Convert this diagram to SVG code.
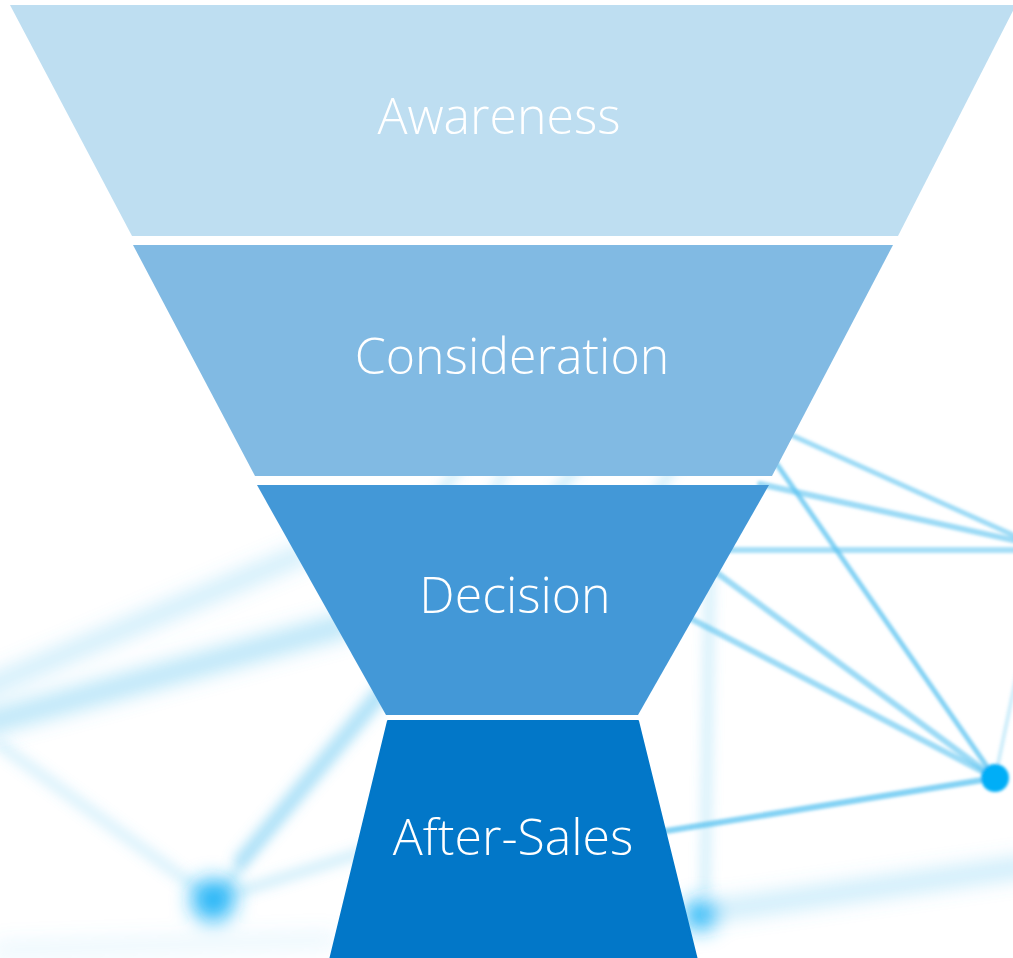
<svg xmlns="http://www.w3.org/2000/svg" width="1013" height="958" viewBox="0 0 1013 958">
<defs>
<style>
.lbl{font-family:"Open Sans","Liberation Sans",sans-serif;font-weight:300;font-size:50px;fill:#ffffff;text-anchor:middle}
.ln{fill:none;stroke:#5cc3f0;stroke-linecap:round}
</style>
<filter id="b1" filterUnits="userSpaceOnUse" x="-50" y="-50" width="1113" height="1058"><feGaussianBlur stdDeviation="1.4"/></filter>
<filter id="b2" filterUnits="userSpaceOnUse" x="-50" y="-50" width="1113" height="1058"><feGaussianBlur stdDeviation="6"/></filter>
<filter id="b3" filterUnits="userSpaceOnUse" x="-50" y="-50" width="1113" height="1058"><feGaussianBlur stdDeviation="10"/></filter>
</defs>
<rect width="1013" height="958" fill="#ffffff"/>
<g id="connectors">
  <g filter="url(#b1)">
    <line class="ln" x1="995" y1="778" x2="760" y2="440" stroke-width="5" stroke-opacity="0.75"/>
    <line class="ln" x1="995" y1="778" x2="690" y2="553" stroke-width="6" stroke-opacity="0.6"/>
    <line class="ln" x1="995" y1="778" x2="680" y2="613" stroke-width="6" stroke-opacity="0.6"/>
    <line class="ln" x1="995" y1="778" x2="660" y2="832" stroke-width="6" stroke-opacity="0.75"/>
    <line class="ln" x1="995" y1="778" x2="1020" y2="660" stroke-width="4" stroke-opacity="0.3"/>
    <line class="ln" x1="1035" y1="545" x2="780" y2="430" stroke-width="5" stroke-opacity="0.6"/>
    <line class="ln" x1="1035" y1="545" x2="760" y2="484" stroke-width="6" stroke-opacity="0.6"/>
    <line class="ln" x1="1035" y1="550" x2="725" y2="550" stroke-width="6" stroke-opacity="0.55"/>
    <circle cx="995" cy="778" r="14" fill="#06aef7"/>
  </g>
  <g filter="url(#b2)">
    <line class="ln" x1="710" y1="560" x2="705" y2="890" stroke-width="9" stroke-opacity="0.3"/>
    <line class="ln" x1="213" y1="900" x2="600" y2="440" stroke-width="9" stroke-opacity="0.35"/>
    <line class="ln" x1="0" y1="745" x2="213" y2="900" stroke-width="12" stroke-opacity="0.22"/>
    <line class="ln" x1="213" y1="900" x2="370" y2="850" stroke-width="10" stroke-opacity="0.3"/>
    <line class="ln" x1="240" y1="860" x2="380" y2="690" stroke-width="14" stroke-opacity="0.4"/>
    <line class="ln" x1="420" y1="520" x2="480" y2="440" stroke-width="7" stroke-opacity="0.4"/>
    <line class="ln" x1="480" y1="520" x2="520" y2="440" stroke-width="7" stroke-opacity="0.35"/>
    <line class="ln" x1="640" y1="520" x2="690" y2="440" stroke-width="7" stroke-opacity="0.4"/>
  </g>
  <g filter="url(#b3)">
    <line class="ln" x1="-20" y1="725" x2="345" y2="625" stroke-width="22" stroke-opacity="0.45"/>
    <line class="ln" x1="-20" y1="690" x2="305" y2="553" stroke-width="16" stroke-opacity="0.35"/>
    <line class="ln" x1="700" y1="913" x2="1030" y2="866" stroke-width="18" stroke-opacity="0.35"/>
    <line class="ln" x1="0" y1="950" x2="330" y2="940" stroke-width="14" stroke-opacity="0.15"/>
    <circle cx="213" cy="900" r="22" fill="#1db4f7" fill-opacity="0.9"/>
    <circle cx="700" cy="915" r="16" fill="#1db4f7" fill-opacity="0.9"/>
  </g>
</g>
<g id="awareness">
  <polygon points="10,5 1016,5 898,236 132,236" fill="#bedef1"/>
  <text class="lbl" x="499" y="134">Awareness</text>
</g>
<g id="consideration">
  <polygon points="133,245 893,245 772,476 255,476" fill="#81bae3"/>
  <text class="lbl" x="512" y="374">Consideration</text>
</g>
<g id="decision">
  <polygon points="257,485 769,485 638,715 386,715" fill="#4398d7"/>
  <text class="lbl" x="515" y="613">Decision</text>
</g>
<g id="after-sales">
  <polygon points="388,721 638,721 697,960 330,960" fill="#0277c8" stroke="#0277c8" stroke-width="2" stroke-linejoin="round"/>
  <text class="lbl" x="513" y="855">After-Sales</text>
</g>
</svg>
